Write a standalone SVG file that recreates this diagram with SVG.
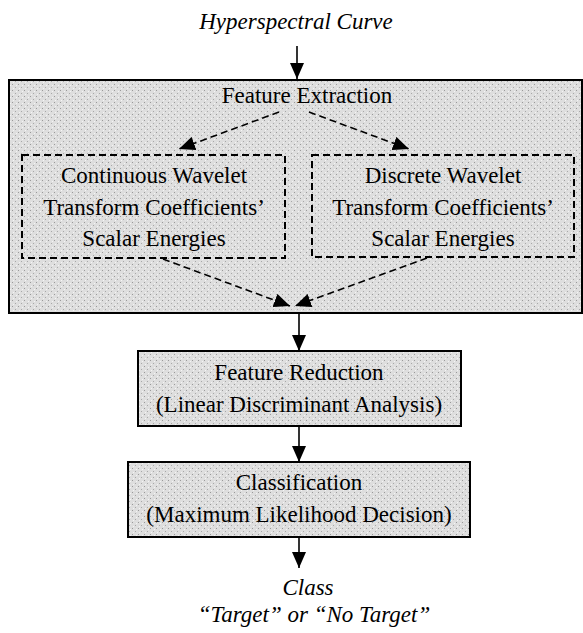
<svg xmlns="http://www.w3.org/2000/svg" width="583" height="633" viewBox="0 0 583 633">
<defs>
<style>
text{font-family:"Liberation Serif","Times New Roman",serif;font-size:23px;fill:#000;text-anchor:middle}
.it{font-style:italic}
.box{fill:#d9d9d9;stroke:#000;stroke-width:2}
.dbox{fill:none;stroke:#000;stroke-width:2;stroke-dasharray:7,4}
.ln{stroke:#000;stroke-width:1.6;fill:none}
.dl{stroke:#000;stroke-width:1.6;fill:none;stroke-dasharray:7,4}
</style>
<pattern id="tex" width="6" height="6" patternUnits="userSpaceOnUse">
<rect width="6" height="6" fill="#dedede"/>
<rect x="0" y="0" width="1" height="1" fill="#9a9a9a"/>
<rect x="3" y="3" width="1" height="1" fill="#a8a8a8"/>
<rect x="4" y="1" width="1" height="1" fill="#f4f4f4"/>
<rect x="1" y="4" width="1" height="1" fill="#f4f4f4"/>
</pattern>
<marker id="ah" markerUnits="userSpaceOnUse" markerWidth="16" markerHeight="14" refX="16" refY="7" orient="auto">
<path d="M0,0 L16,7 L0,14 z" fill="#000"/>
</marker>
</defs>

<g id="input">
<text class="it" x="296" y="29">Hyperspectral Curve</text>
</g>

<g id="feature-extraction">
<rect class="box" x="9" y="80" width="573" height="233" fill="url(#tex)" style="fill:url(#tex)"/>
<text x="307" y="103">Feature Extraction</text>
</g>

<g id="cwt">
<rect class="dbox" x="22" y="155" width="263" height="103"/>
<text x="154" y="183">Continuous Wavelet</text>
<text x="154" y="215">Transform Coefficients’</text>
<text x="154" y="246">Scalar Energies</text>
</g>

<g id="dwt">
<rect class="dbox" x="312" y="155" width="262" height="102"/>
<text x="443" y="183">Discrete Wavelet</text>
<text x="443" y="215">Transform Coefficients’</text>
<text x="443" y="246">Scalar Energies</text>
</g>

<g id="feature-reduction">
<rect class="box" x="138" y="351" width="323" height="75" style="fill:url(#tex)"/>
<text x="299" y="380">Feature Reduction</text>
<text x="299" y="412">(Linear Discriminant Analysis)</text>
</g>

<g id="classification">
<rect class="box" x="128" y="462" width="342" height="75" style="fill:url(#tex)"/>
<text x="299" y="490">Classification</text>
<text x="299" y="522">(Maximum Likelihood Decision)</text>
</g>

<g id="output">
<text class="it" x="308" y="595">Class</text>
<text class="it" x="314" y="622">“Target” or “No Target”</text>
</g>

<g id="connectors">
<line class="ln" x1="297" y1="46" x2="297" y2="79" marker-end="url(#ah)"/>
<line class="dl" x1="279" y1="112" x2="179" y2="149" marker-end="url(#ah)"/>
<line class="dl" x1="309" y1="112" x2="409" y2="149" marker-end="url(#ah)"/>
<line class="dl" x1="163" y1="259" x2="290" y2="306" marker-end="url(#ah)"/>
<line class="dl" x1="427" y1="258" x2="295" y2="306" marker-end="url(#ah)"/>
<line class="ln" x1="299" y1="313" x2="299" y2="351" marker-end="url(#ah)"/>
<line class="ln" x1="299" y1="426" x2="299" y2="462" marker-end="url(#ah)"/>
<line class="ln" x1="299" y1="537" x2="299" y2="568" marker-end="url(#ah)"/>
</g>
</svg>
